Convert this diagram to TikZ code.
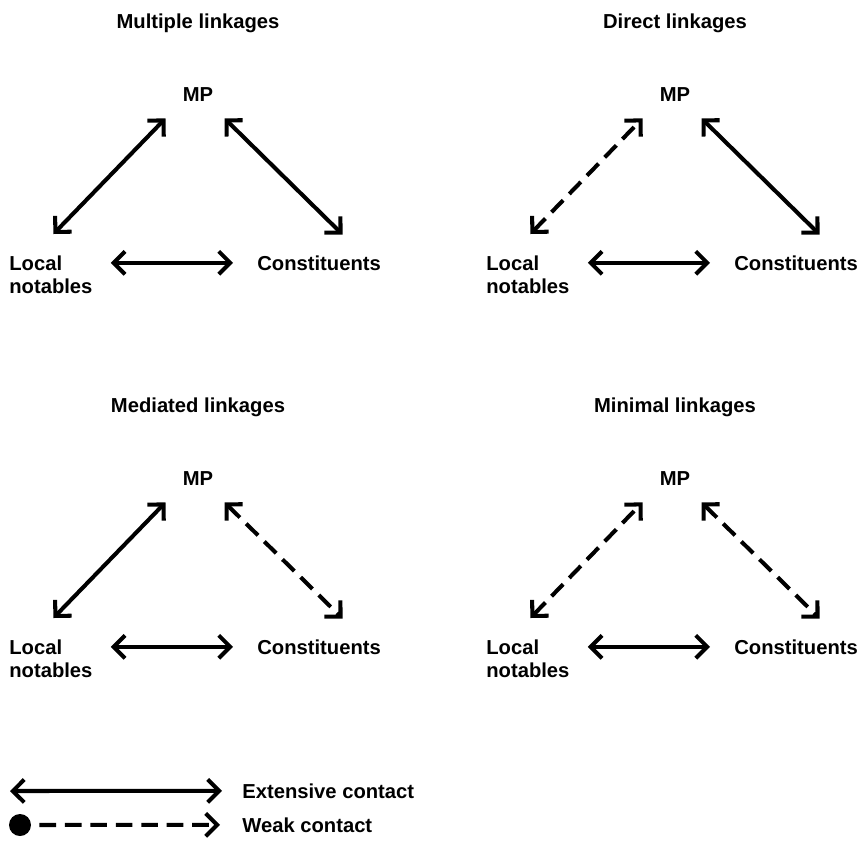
\documentclass[tikz,border=0pt]{standalone}
\usepackage{fontspec}
\setmainfont{Liberation Sans}
\usetikzlibrary{arrows.meta}

\begin{document}
\begin{tikzpicture}[x=0.02cm, y=-0.02cm, >={Straight Barb[length=6.5pt,width=13pt]},
        font=\fontsize{11.5}{13}\selectfont\bfseries]
        \tikzset{lbl/.style={inner sep=0pt},
                 strong/.style={<->, line width=2.3pt},
                 weak/.style={<->, line width=2.3pt, dash pattern=on 9.5pt off 5pt},
                 hz/.style={strong, shorten <=0.36cm, shorten >=0.48cm}}
        \useasboundingbox (0,0) rectangle (868,849);
        %% Multiple linkages
        \node[lbl, anchor=base] (tit1) at (198,28) {Multiple linkages};
        \node[lbl, anchor=base] (mp1) at (198,101) {MP};
        \node[lbl, anchor=north west, align=left] (loc1) at (9,255.5) {Local\\notables};
        \node[lbl, anchor=base west] (con1) at (257,270) {Constituents};
        \draw[strong] ([shift={(2.5,-21.5)}]loc1.north) -- ([shift={(-17,17)}]mp1.south west);
        \draw[strong] ([shift={(11,17)}]mp1.south east) -- ([shift={(23.5,-20.5)}]con1.north);
        \draw[hz] (loc1.east |- con1.west) -- (con1.west);
        %% Direct linkages
        \node[lbl, anchor=base] (tit2) at (675,28) {Direct linkages};
        \node[lbl, anchor=base] (mp2) at (675,101) {MP};
        \node[lbl, anchor=north west, align=left] (loc2) at (486,255.5) {Local\\notables};
        \node[lbl, anchor=base west] (con2) at (734,270) {Constituents};
        \draw[weak] ([shift={(2.5,-21.5)}]loc2.north) -- ([shift={(-17,17)}]mp2.south west);
        \draw[strong] ([shift={(11,17)}]mp2.south east) -- ([shift={(23.5,-20.5)}]con2.north);
        \draw[hz] (loc2.east |- con2.west) -- (con2.west);
        %% Mediated linkages
        \node[lbl, anchor=base] (tit3) at (198,412) {Mediated linkages};
        \node[lbl, anchor=base] (mp3) at (198,485) {MP};
        \node[lbl, anchor=north west, align=left] (loc3) at (9,639.5) {Local\\notables};
        \node[lbl, anchor=base west] (con3) at (257,654) {Constituents};
        \draw[strong] ([shift={(2.5,-21.5)}]loc3.north) -- ([shift={(-17,17)}]mp3.south west);
        \draw[weak] ([shift={(11,17)}]mp3.south east) -- ([shift={(23.5,-20.5)}]con3.north);
        \draw[hz] (loc3.east |- con3.west) -- (con3.west);
        %% Minimal linkages
        \node[lbl, anchor=base] (tit4) at (675,412) {Minimal linkages};
        \node[lbl, anchor=base] (mp4) at (675,485) {MP};
        \node[lbl, anchor=north west, align=left] (loc4) at (486,639.5) {Local\\notables};
        \node[lbl, anchor=base west] (con4) at (734,654) {Constituents};
        \draw[weak] ([shift={(2.5,-21.5)}]loc4.north) -- ([shift={(-17,17)}]mp4.south west);
        \draw[weak] ([shift={(11,17)}]mp4.south east) -- ([shift={(23.5,-20.5)}]con4.north);
        \draw[hz] (loc4.east |- con4.west) -- (con4.west);
        %% Legende
        \coordinate (lg1) at (10,791);
        \node[lbl, anchor=base west] (ext) at (242,798) {Extensive contact};
        \draw[strong, shorten >=0.4cm] (lg1) -- (ext.west);
        \node[circle, fill=black, inner sep=0pt, minimum size=0.44cm] (dot) at (20,825) {};
        \node[lbl, anchor=base west] (wk) at (242,832) {Weak contact};
        \draw[weak, -{Straight Barb[length=6.5pt,width=13pt]}, shorten <=0.16cm, shorten >=0.44cm] (dot) -- (wk.west);
    \end{tikzpicture}
\end{document}
